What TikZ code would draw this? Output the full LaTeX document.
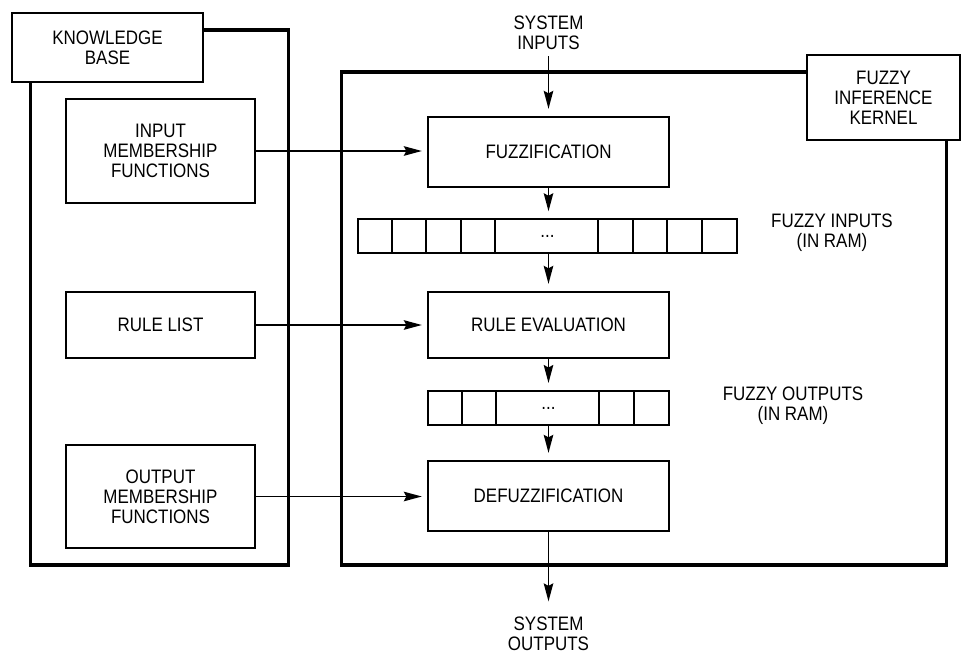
\documentclass[tikz,border=0pt]{standalone}
\usepackage{fontspec}
\setmainfont{Liberation Sans}[FakeStretch=0.87]
\usetikzlibrary{arrows.meta,calc}
\newcommand\diagfont{\fontsize{19.5}{20}\selectfont}
\tikzset{
  lbl/.style={font=\diagfont, align=center, inner sep=6.5pt},
  box/.style={lbl, draw, line width=2.3pt, rectangle},
  reg/.style={draw, line width=2pt, rectangle, font=\diagfont, inner sep=0pt},
  cellline/.style={line width=2pt},
  frame/.style={line width=3.3pt, line join=miter},
  arr/.style={line width=1.8pt, -{Stealth[length=18pt,width=9.5pt,inset=2.5pt]}, shorten >=7pt},
  harr/.style={arr, shorten >=5pt}
}
\begin{document}
\begin{tikzpicture}[x=1pt,y=-1pt]
\useasboundingbox (0,0) rectangle (961,654);
% knowledge base
\node[box, minimum width=191pt, minimum height=69pt] (kbl) at (107.5,47.5) {KNOWLEDGE\\BASE};
\node[box, minimum width=189pt, minimum height=104pt] (imf) at (160.5,151) {INPUT\\MEMBERSHIP\\FUNCTIONS};
\node[box, minimum width=189pt, minimum height=66pt] (rl) at (160.5,325) {RULE LIST};
\node[box, minimum width=189pt, minimum height=103pt] (omf) at (160.5,496.5) {OUTPUT\\MEMBERSHIP\\FUNCTIONS};
\coordinate (kbTR) at (288.3,30);
\coordinate (kbBL) at (30.7,565);
\draw[frame] (kbl.east |- kbTR) -- (kbTR) |- (kbBL) -- (kbl.south -| kbBL);
% kernel
\node[box, minimum width=153pt, minimum height=85pt] (kl) at (883.5,97.5) {FUZZY\\INFERENCE\\KERNEL};
\coordinate (fkTL) at (341.5,72);
\coordinate (fkBR) at (946.5,565);
\draw[frame] (kl.west |- fkTL) -- (fkTL) |- (fkBR) -- (kl.south -| fkBR);
\node[box, minimum width=241pt, minimum height=70pt] (fuzz) at (548.5,152) {FUZZIFICATION};
\node[box, minimum width=241pt, minimum height=66pt] (rule) at (548.5,325) {RULE EVALUATION};
\node[box, minimum width=241pt, minimum height=70pt] (defuzz) at (548.5,496) {DEFUZZIFICATION};
% registers
\node[reg, minimum width=379pt, minimum height=33.5pt] (reg1) at (547.5,236) {...};
\foreach \d in {34.5,69,103.5,138,241,275.5,310,344.5}
  \draw[cellline] ($(reg1.north west)+(\d,0)$) -- ($(reg1.south west)+(\d,0)$);
\node[reg, minimum width=241pt, minimum height=34pt] (reg2) at (548.5,408) {...};
\foreach \d in {34.5,69,172,206.5}
  \draw[cellline] ($(reg2.north west)+(\d,0)$) -- ($(reg2.south west)+(\d,0)$);
% labels
\node[lbl] (sysin) at (548.5,32.7) {SYSTEM\\INPUTS};
\node[lbl] (sysout) at (548.5,634) {SYSTEM\\OUTPUTS};
\node[lbl] (fin) at (832,232.5) {FUZZY INPUTS\\(IN RAM)};
\node[lbl] (fout) at (793,405.5) {FUZZY OUTPUTS\\(IN RAM)};
% arrows
\draw[arr] (sysin.south) -- (fuzz.north);
\draw[arr] (fuzz.south) -- (reg1.north -| fuzz.south);
\draw[arr] (reg1.south -| rule.north) -- (rule.north);
\draw[arr] (rule.south) -- (reg2.north);
\draw[arr] (reg2.south) -- (defuzz.north);
\draw[arr, shorten >=9pt] (defuzz.south) -- (sysout.north);
\draw[harr] (imf.east) -- (imf.east -| fuzz.west);
\draw[harr] (rl.east) -- (rule.west);
\draw[harr] (omf.east) -- (omf.east -| defuzz.west);
\end{tikzpicture}
\end{document}
